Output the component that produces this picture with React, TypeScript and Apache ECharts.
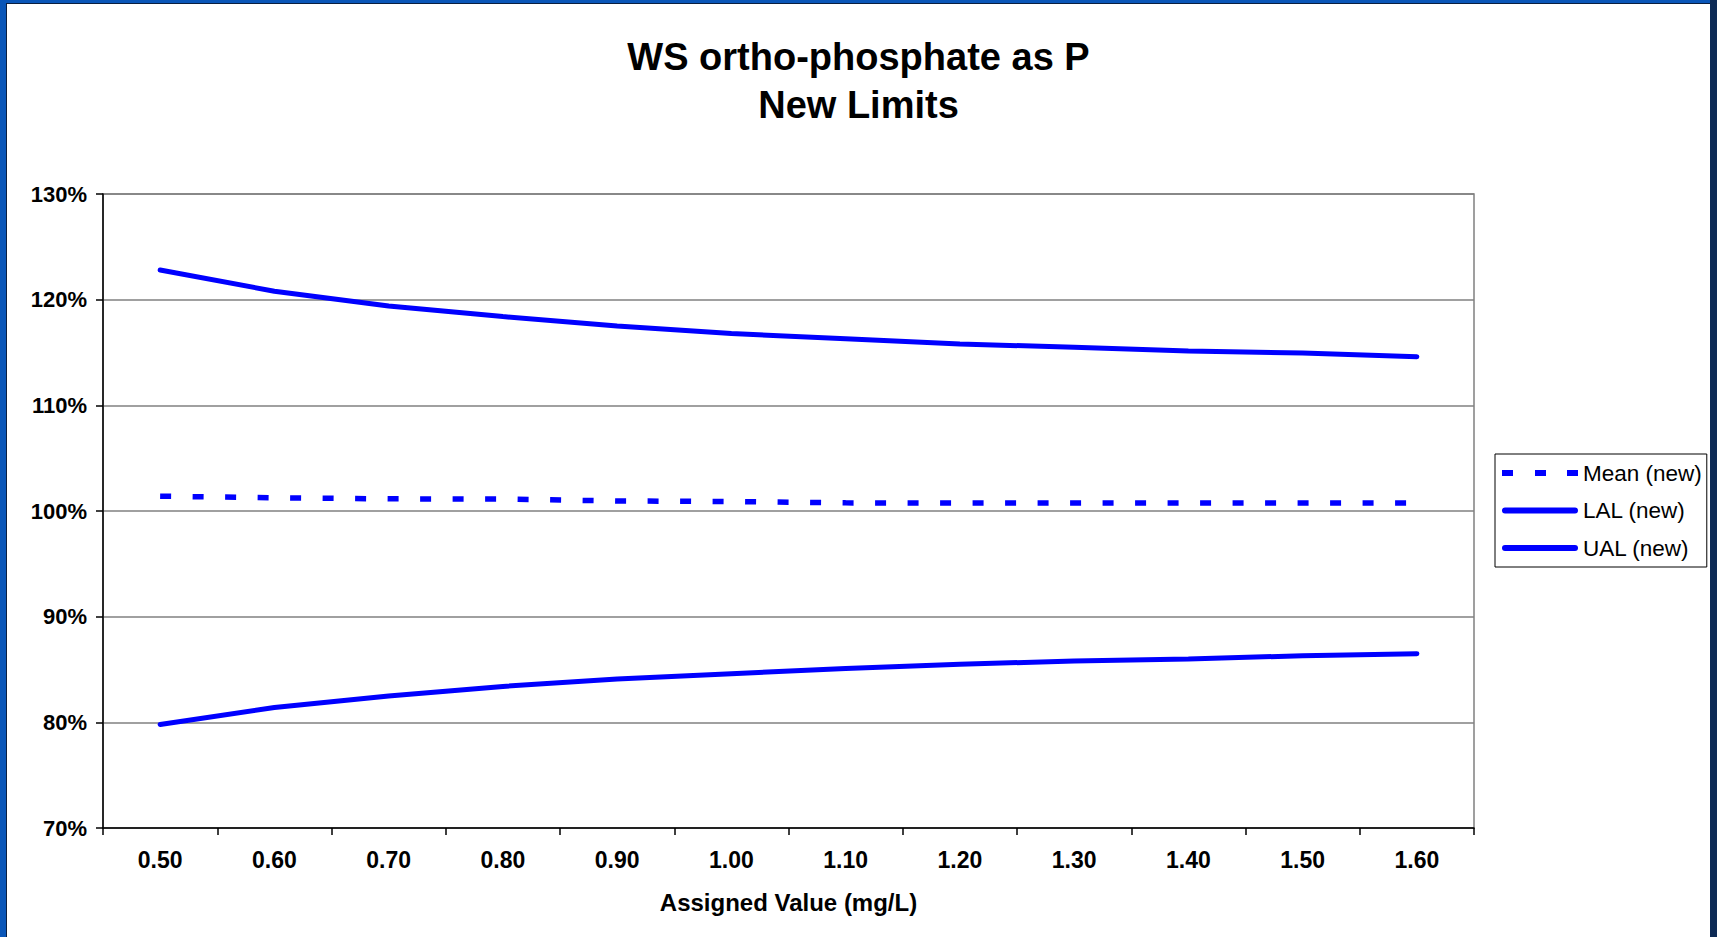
import React, { useEffect, useRef } from "react";
import * as echarts from "echarts";

const categories = ["0.50", "0.60", "0.70", "0.80", "0.90", "1.00", "1.10", "1.20", "1.30", "1.40", "1.50", "1.60"];
const meanNew = [101.4, 101.25, 101.15, 101.13, 100.95, 100.9, 100.77, 100.75, 100.75, 100.75, 100.75, 100.75];
const lalNew = [79.8, 81.4, 82.5, 83.4, 84.1, 84.6, 85.1, 85.5, 85.8, 86.0, 86.3, 86.5];
const ualNew = [122.8, 120.8, 119.4, 118.4, 117.5, 116.8, 116.3, 115.8, 115.5, 115.15, 114.95, 114.6];
const yTicks = { min: 70, max: 130, interval: 10 };
const seriesNames = ["Mean (new)", "LAL (new)", "UAL (new)"];

const FONT = "'Liberation Sans', Arial, sans-serif";
const DASH_ICON = "path://M0,0L11,0L11,6L0,6Z M33,0L44,0L44,6L33,6Z M65,0L76,0L76,6L65,6Z";
const SOLID_ICON = "path://M3,0L73,0A3,3,0,0,1,73,6L3,6A3,3,0,0,1,3,0Z";

export default function App() {
  const ref = useRef<HTMLDivElement>(null);
  useEffect(() => {
    if (!ref.current) return;
    const chart = echarts.init(ref.current, null, { renderer: "svg" });
    chart.setOption({
      animation: false,
      title: {
        text: "WS ortho-phosphate as P\nNew Limits",
        left: "center",
        top: 33,
        padding: 0,
        textStyle: { fontFamily: FONT, fontSize: 38, fontWeight: "bold", color: "#000", lineHeight: 48 },
      },
      legend: {
        orient: "vertical",
        left: 1495,
        top: 454,
        padding: [7, 5, 7, 7],
        borderColor: "#000",
        borderWidth: 1,
        backgroundColor: "#fff",
        itemWidth: 76,
        itemHeight: 6,
        itemGap: 13.5,
        itemStyle: { borderWidth: 0 },
        textStyle: { fontFamily: FONT, fontSize: 22.5, color: "#000", lineHeight: 24 },
        data: [
          { name: seriesNames[0], icon: DASH_ICON },
          { name: seriesNames[1], icon: SOLID_ICON },
          { name: seriesNames[2], icon: SOLID_ICON },
        ],
      },
      grid: {
        left: 103,
        top: 194,
        right: 243,
        bottom: 109,
        show: true,
        borderColor: "#808080",
        borderWidth: 1.5,
        backgroundColor: "transparent",
      },
      xAxis: {
        type: "category",
        data: categories,
        boundaryGap: true,
        name: "Assigned Value (mg/L)",
        nameLocation: "middle",
        nameGap: 62,
        nameTextStyle: { fontFamily: FONT, fontSize: 24, fontWeight: "bold", color: "#000" },
        axisLine: { lineStyle: { color: "#000", width: 1.5 } },
        axisTick: { show: true, length: 7, lineStyle: { color: "#000", width: 1.5 } },
        axisLabel: { fontFamily: FONT, fontSize: 23, fontWeight: "bold", color: "#000", margin: 20 },
        splitLine: { show: false },
      },
      yAxis: {
        type: "value",
        min: yTicks.min,
        max: yTicks.max,
        interval: yTicks.interval,
        axisLine: { show: true, lineStyle: { color: "#000", width: 1.5 } },
        axisTick: { show: true, length: 7, lineStyle: { color: "#000", width: 1.5 } },
        axisLabel: { fontFamily: FONT, fontSize: 22, fontWeight: "bold", color: "#000", margin: 16, formatter: "{value}%" },
        splitLine: { show: true, lineStyle: { color: "#808080", width: 1.5 } },
      },
      series: [
        {
          name: seriesNames[0],
          type: "line",
          data: meanNew,
          symbol: "none",
          lineStyle: { color: "#0000ff", width: 5.5, type: [11, 21.5], cap: "butt" },
          itemStyle: { color: "#0000ff" },
        },
        {
          name: seriesNames[1],
          type: "line",
          data: lalNew,
          symbol: "none",
          lineStyle: { color: "#0000ff", width: 5, cap: "round" },
          itemStyle: { color: "#0000ff" },
        },
        {
          name: seriesNames[2],
          type: "line",
          data: ualNew,
          symbol: "none",
          lineStyle: { color: "#0000ff", width: 5, cap: "round" },
          itemStyle: { color: "#0000ff" },
        },
      ],
    });
    return () => chart.dispose();
  }, []);

  return (
    <div style={{ position: "fixed", left: 0, top: 0, width: 1717, height: 937, background: "#0a56b8", overflow: "hidden" }}>
      <div
        style={{
          position: "absolute",
          left: 6,
          top: 3,
          width: 1704,
          height: 934,
          background: "#ffffff",
          borderLeft: "1px solid #0b1f3f",
          borderTop: "1px solid #0b1f3f",
          boxSizing: "border-box",
        }}
      />
      <div style={{ position: "absolute", left: 1710, top: 0, width: 7, height: 937, background: "#0d2a55" }} />
      <div ref={ref} style={{ position: "absolute", left: 0, top: 0, width: 1717, height: 937 }} />
    </div>
  );
}
